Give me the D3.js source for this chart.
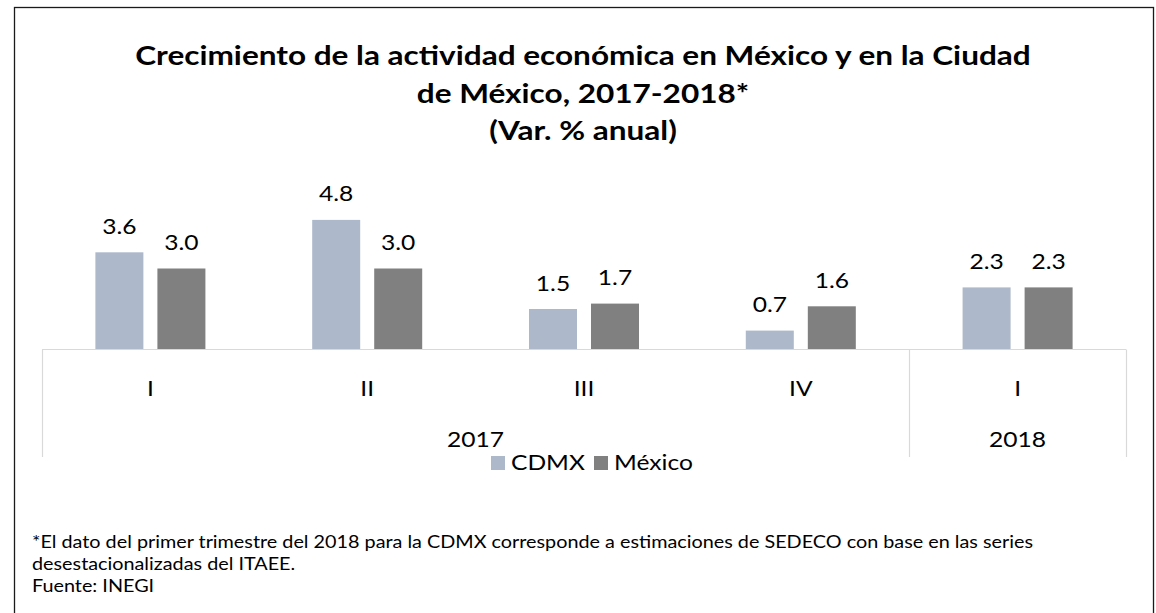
<!DOCTYPE html>
<html>
<head>
<meta charset="utf-8">
<script src="https://cdn.jsdelivr.net/npm/d3@7"></script>
<style>
  body { margin: 0; background: #fff; }
  svg { display: block; font-family: Lato, "Open Sans", sans-serif; }
</style>
</head>
<body>
<div id="chart"></div>
<script>
// Data.
const quarters = ["I", "II", "III", "IV", "I"];
const years = ["2017", "2017", "2017", "2017", "2018"];
const series = ["CDMX", "México"];
const cdmx_values = [3.6, 4.8, 1.5, 0.7, 2.3];
const mexico_values = [3.0, 3.0, 1.7, 1.6, 2.3];
const title_lines = [
  "Crecimiento de la actividad económica en México y en la Ciudad",
  "de México, 2017-2018*",
  "(Var. % anual)"
];
const note_lines = [
  "*El dato del primer trimestre del 2018 para la CDMX corresponde a estimaciones de SEDECO con base en las series",
  "desestacionalizadas del ITAEE.",
  "Fuente: INEGI"
];

const rows = quarters.map((q, i) => ({
  key: years[i] + "-" + q, quarter: q, year: years[i],
  CDMX: cdmx_values[i], "México": mexico_values[i]
}));

let width = 1156, height = 613;
// The source picture is a little wider than tall in its lettering.
const SX = 1.2;

let svg = d3.select("#chart").append("svg")
.attr("width", width)
.attr("height", height);

// Helper: text stretched horizontally around its anchor.
const label = (g, x, y, str, size, weight, anchor) => {
  return g.append("text")
  .attr("transform", "translate(" + x + "," + y + ") scale(" + SX + ",1)")
  .attr("text-anchor", anchor || "middle")
  .style("font-size", size + "px")
  .style("font-weight", weight || "normal")
  .style("fill", "#000")
  .text(str);
};

// Outer frame.
svg.append("rect")
.attr("x", 14.5).attr("y", 7.5)
.attr("width", 1139).attr("height", 640)
.style("fill", "none")
.style("stroke", "#1a1a1a")
.style("stroke-width", 1.3);

// Title.
title_lines.forEach((t, i) => label(svg, 583, 65 + i * 37.5, t, 26.3, "bold"));

// Scales.
let margin = {left: 42, right: 1126, base: 349.5};
let x0 = d3.scaleBand()
.domain(rows.map(d => d.key))
.range([margin.left, margin.right]);

let x1 = d3.scaleBand()
.domain(series)
.range([0, x0.bandwidth()])
.paddingInner(0.226)
.paddingOuter(0.861);

let y = d3.scaleLinear()
.domain([0, 5])
.range([margin.base, margin.base - 135]);

let color = d3.scaleOrdinal()
.domain(series)
.range(["#adb9ca", "#808080"]);

// Bars.
let groups = svg.append("g")
.selectAll("g")
.data(rows)
.enter()
.append("g")
.attr("transform", d => "translate(" + x0(d.key) + ",0)");

groups.selectAll("rect")
.data(d => series.map(s => ({s: s, v: d[s]})))
.enter()
.append("rect")
.attr("x", d => x1(d.s))
.attr("y", d => y(d.v))
.attr("width", x1.bandwidth())
.attr("height", d => y(0) - y(d.v))
.style("fill", d => color(d.s));

// Value labels.
groups.each(function (d) {
  let g = d3.select(this);
  series.forEach(s => {
    label(g, x1(s) + x1.bandwidth() / 2, y(d[s]) - 18.5, d[s].toFixed(1), 20.5);
  });
});

// Category axis with year grouping.
let axis = svg.append("g").style("stroke", "#d9d9d9").style("stroke-width", 1.2);
axis.append("line")
.attr("x1", margin.left).attr("x2", margin.right)
.attr("y1", margin.base).attr("y2", margin.base);

let yearNames = Array.from(new Set(years));
let yearSpans = yearNames.map(yr => {
  let keys = rows.filter(d => d.year === yr).map(d => d.key);
  return {year: yr, x0: x0(keys[0]), x1: x0(keys[keys.length - 1]) + x0.bandwidth()};
});
let dividers = [margin.left].concat(yearSpans.map(d => d.x1));
dividers.forEach(xv => {
  axis.append("line")
  .attr("x1", Math.round(xv) + 0.5).attr("x2", Math.round(xv) + 0.5)
  .attr("y1", margin.base).attr("y2", 457);
});

rows.forEach(d => label(svg, x0(d.key) + x0.bandwidth() / 2, 396, d.quarter, 20.5));
yearSpans.forEach(d => label(svg, (d.x0 + d.x1) / 2, 447, d.year, 20.5));

// Legend.
let legend_x = [491, 594];
series.forEach((s, i) => {
  svg.append("rect")
  .attr("x", legend_x[i]).attr("y", 456)
  .attr("width", 14).attr("height", 14)
  .style("fill", color(s));
  label(svg, legend_x[i] + 20, 470, s, 20.5, "normal", "start");
});

// Footnote.
note_lines.forEach((t, i) => label(svg, 32, 548 + i * 22, t, 16.5, "normal", "start"));
</script>
</body>
</html>
